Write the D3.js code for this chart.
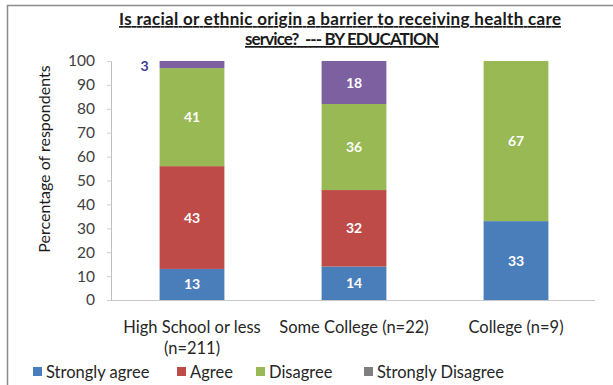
<!DOCTYPE html>
<html>
<head>
<meta charset="utf-8">
<script src="https://cdn.jsdelivr.net/npm/d3@7"></script>
<style>
  body { margin: 0; background: #fff; }
  text { font-family: Lato, "Open Sans", sans-serif; }
</style>
</head>
<body>
<div id="chart"></div>
<script>
var categories = ["High School or less|(n=211)", "Some College (n=22)", "College (n=9)"];
var seriesNames = ["Strongly agree", "Agree", "Disagree", "Strongly Disagree"];
var stronglyAgree = [13, 14, 33];
var agree = [43, 32, 0];
var disagree = [41, 36, 67];
var stronglyDisagree = [3, 18, 0];
var yTicks = [0, 10, 20, 30, 40, 50, 60, 70, 80, 90, 100];

var barColors = ["#4a7ebb", "#be4b48", "#98b954", "#7d60a0"];
var legendColors = ["#4a7ebb", "#be4b48", "#98b954", "#7f7f7f"];

var W = 613, H = 385;
var margin = { top: 61, right: 16, bottom: 85, left: 111 },
    width = W - margin.left - margin.right,
    height = H - margin.top - margin.bottom;

var svg = d3.select("#chart").append("svg")
    .attr("width", W)
    .attr("height", H);

// outer frame (left and top edges visible)
svg.append("path")
    .attr("d", "M7.5,385 L7.5,5.5 L613,5.5")
    .attr("fill", "none")
    .attr("stroke", "#8c8c8c")
    .attr("stroke-width", 1.5);

// title
var title = svg.append("text")
    .attr("text-anchor", "middle")
    .attr("font-weight", "bold")
    .attr("font-size", 17)
    .attr("fill", "#1a1a1a")
    .attr("text-decoration", "underline")
    .style("white-space", "pre");
title.append("tspan").attr("x", 340).attr("y", 25)
    .attr("textLength", 442).attr("lengthAdjust", "spacing")
    .text("Is racial or ethnic origin a barrier to receiving health care");
title.append("tspan").attr("x", 342).attr("y", 45)
    .attr("textLength", 194).attr("lengthAdjust", "spacing")
    .text("service?  --- BY EDUCATION");

var canvas = svg.append("g")
    .attr("transform", "translate(" + margin.left + "," + margin.top + ")");

var data = categories.map(function (c, i) {
    return { cat: c, v0: stronglyAgree[i], v1: agree[i], v2: disagree[i], v3: stronglyDisagree[i] };
});
var stack = d3.stack().keys(["v0", "v1", "v2", "v3"])(data);

var xScale = d3.scaleBand()
    .domain(categories)
    .range([0, width])
    .paddingInner(0.6)
    .paddingOuter(0.3);

var yScale = d3.scaleLinear()
    .domain([0, 100])
    .range([height, 0]);

// y axis
var yAxis = canvas.append("g")
    .call(d3.axisLeft(yScale).tickValues(yTicks).tickSize(4).tickPadding(12));
yAxis.select(".domain").attr("stroke", "#bfbfbf");
yAxis.selectAll(".tick line").attr("stroke", "#d0d0d0");
yAxis.selectAll("text")
    .attr("font-size", 15.5)
    .attr("fill", "#404040")
    .style("font-family", "Lato, sans-serif");

// x axis line
canvas.append("line")
    .attr("x1", 0).attr("x2", width - 2)
    .attr("y1", height + 0.5).attr("y2", height + 0.5)
    .attr("stroke", "#c8c8c8");

// bars
stack.forEach(function (layer, k) {
    canvas.selectAll(".bar" + k)
        .data(layer)
        .enter().append("rect")
        .attr("x", function (d) { return xScale(d.data.cat); })
        .attr("y", function (d) { return yScale(d[1]); })
        .attr("width", xScale.bandwidth())
        .attr("height", function (d) { return yScale(d[0]) - yScale(d[1]); })
        .attr("fill", barColors[k]);

    canvas.selectAll(".lab" + k)
        .data(layer.filter(function (d) { return d[1] - d[0] > 0; }))
        .enter().append("text")
        .attr("x", function (d) {
            var v = d[1] - d[0];
            return v < 5 ? xScale(d.data.cat) - 15 : xScale(d.data.cat) + xScale.bandwidth() / 2;
        })
        .attr("y", function (d) {
            var v = d[1] - d[0];
            return v < 5 ? yScale(d[1]) + 10 : yScale((d[0] + d[1]) / 2) + 5;
        })
        .attr("text-anchor", "middle")
        .attr("font-size", 14)
        .attr("font-weight", "bold")
        .attr("fill", function (d) { return d[1] - d[0] < 5 ? "#3d3d99" : "#ffffff"; })
        .text(function (d) { return d[1] - d[0]; });
});

// category labels
categories.forEach(function (c) {
    var lines = c.split("|");
    var t = canvas.append("text")
        .attr("text-anchor", "middle")
        .attr("font-size", 16.5)
        .attr("fill", "#262626");
    lines.forEach(function (ln, j) {
        t.append("tspan")
            .attr("x", xScale(c) + xScale.bandwidth() / 2)
            .attr("y", height + 33 + j * 21)
            .text(ln);
    });
});

// y axis title
svg.append("text")
    .attr("transform", "translate(50,159) rotate(-90)")
    .attr("text-anchor", "middle")
    .attr("font-size", 16)
    .attr("fill", "#1a1a1a")
    .text("Percentage of respondents");

// legend
var legendX = [33, 177, 256, 364];
var legend = svg.selectAll(".legend")
    .data(seriesNames)
    .enter().append("g")
    .attr("transform", function (d, i) { return "translate(" + legendX[i] + ",372)"; });
legend.append("rect")
    .attr("x", 0).attr("y", -5)
    .attr("width", 9).attr("height", 9)
    .attr("fill", function (d, i) { return legendColors[i]; });
legend.append("text")
    .attr("x", 13).attr("y", 6)
    .attr("font-size", 16.5)
    .attr("fill", "#262626")
    .text(function (d) { return d; });
</script>
</body>
</html>
